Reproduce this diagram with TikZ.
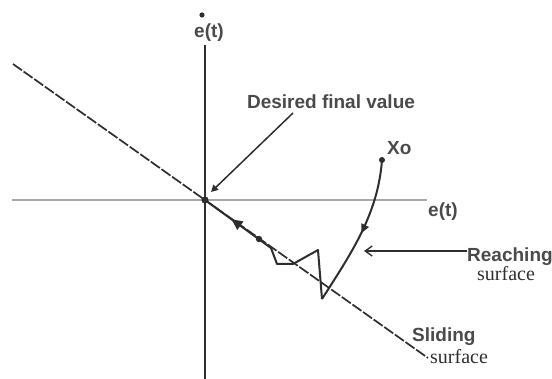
\documentclass[tikz,border=0pt]{standalone}
\usepackage{fontspec}
\setmainfont{Liberation Sans}
\newfontfamily\smcserif{Liberation Serif}
\usetikzlibrary{arrows.meta, decorations.markings}
\definecolor{smink}{HTML}{2E2E2E}
\definecolor{smtext}{HTML}{4A4A4A}
\definecolor{smaxis}{HTML}{A8A8A8}

\begin{document}
\begin{tikzpicture}[
    x=1pt, y=-1pt,
    % ---- shared styles ---------------------------------------------------
    lbl/.style={font=\bfseries\fontsize{19}{21}\selectfont, text=smtext, inner sep=0pt},
    serlbl/.style={font=\smcserif\fontsize{20}{22}\selectfont,
                   text=smink, inner sep=0pt},
    axis/.style={draw=smink, line width=1.8pt},
    haxis/.style={draw=smaxis, line width=1.1pt},
    slide/.style={draw=smink, line width=1.7pt, dash pattern=on 11pt off 2pt},
    traj/.style={draw=smink, line width=2pt, line join=round},
    pointer/.style={draw=smink, line width=1.5pt, -{Triangle[length=7pt, width=7pt]}},
    barb/.style={draw=smink, line width=1.4pt, -{Straight Barb[length=7pt, width=10pt]}},
    dot/.style={fill=smink},
  ]
\useasboundingbox (0,0) rectangle (552,379);

% =========================================================================
% AXES
% =========================================================================
\coordinate (O) at (205,200);
\draw[haxis] (12,200) -- (427,200);
\draw[axis]  (205,45) -- (205,379);
\fill[dot] (202,15) circle[radius=2.6];
\node[lbl] (edot) at (209,33) {e(t)};
\node[lbl] (erow) at (443,212) {e(t)};

% sliding surface through the origin
\draw[slide] (13,64) -- (428,358);

% =========================================================================
% TRAJECTORY -- reaching phase, chatter, then sliding to the origin
% =========================================================================
\coordinate (xo)    at (382,160);
\coordinate (hit)   at (322,299);
\coordinate (peak)  at (318,250);
\coordinate (kneeR) at (293,264);
\coordinate (kneeL) at (277,264);
\coordinate (back)  at (271,248);
\coordinate (onsl)  at (259,239);

\draw[traj, postaction={decorate}, decoration={markings,
      mark=at position 0.5 with {\arrow{Triangle[length=9pt, width=8pt]}}}]
  (xo) .. controls (378,215) and (350,255) .. (hit);
\draw[traj, postaction={decorate}, decoration={markings,
      mark=at position 0.83 with {\arrow{Triangle[length=11pt, width=10pt]}}}]
  (hit) -- (peak) -- (kneeR) -- (kneeL) -- (back) -- (O);

\fill[dot] (xo)   circle[radius=3];
\fill[dot] (O)    circle[radius=3.6];
\fill[dot] (onsl) circle[radius=3.2];
\node[lbl, anchor=south west] (xolbl) at (387,155) {Xo};

% =========================================================================
% LABELS
% =========================================================================
\node[lbl] (goal) at (331,102) {Desired final value};
\coordinate (goaltail) at (293,113);
\coordinate (goaltip)  at (211,192);
\draw[pointer] (goaltail) -- (goaltip);

\node[lbl, anchor=base west] (reach) at (467,262) {Reaching};
\node[serlbl, anchor=base west] (reachs) at (477,281) {surface};
\coordinate (reachtip) at (364,251);
\draw[barb] (reach.west |- 0,251) -- (reachtip);

\node[lbl, anchor=base west] (slid) at (412,342) {Sliding};
\node[serlbl, anchor=base west] (slids) at (430,364) {surface};

\end{tikzpicture}
\end{document}
